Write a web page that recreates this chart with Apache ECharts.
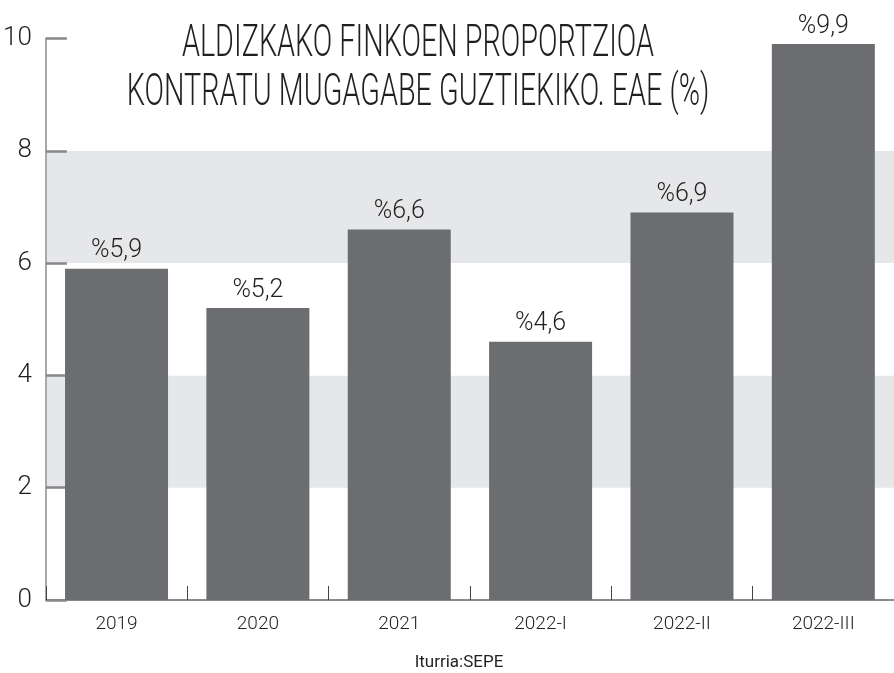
<!DOCTYPE html>
<html>
<head>
<meta charset="utf-8">
<script src="https://cdn.jsdelivr.net/npm/echarts@6/dist/echarts.min.js"></script>
<style>
  html, body { margin: 0; padding: 0; background: #fff; }
  #main { width: 894px; height: 673px; }
</style>
</head>
<body>
<div id="main"></div>
<script>
// datuak
let categories = ['2019', '2020', '2021', '2022-I', '2022-II', '2022-III'];
let values = [5.9, 5.2, 6.6, 4.6, 6.9, 9.9];
let yTicks = [0, 2, 4, 6, 8, 10];
let titleLines = ['ALDIZKAKO FINKOEN PROPORTZIOA', 'KONTRATU MUGAGABE GUZTIEKIKO. EAE (%)'];
let sourceText = 'Iturria:SEPE';

let fontName = "Roboto, 'DejaVu Sans Condensed', sans-serif";
let textColor = '#231f20';

let option = {
    backgroundColor: '#ffffff',
    animation: false,
    grid: {
        left: 45,
        right: -3,
        top: 38.5,
        bottom: 73
    },
    graphic: [
        {
            type: 'text',
            x: 418,
            y: 20,
            scaleX: 0.64,
            z: 10,
            style: {
                text: titleLines.join('\n'),
                font: '300 45px ' + fontName,
                fill: textColor,
                textAlign: 'center',
                textVerticalAlign: 'top',
                lineHeight: 49
            }
        },
        {
            type: 'text',
            x: 459,
            y: 654,
            style: {
                text: sourceText,
                font: '17px ' + fontName,
                fill: textColor,
                textAlign: 'center',
                textVerticalAlign: 'top'
            }
        }
    ],
    xAxis: {
        type: 'category',
        data: categories,
        axisLine: { lineStyle: { color: '#8a8a8c', width: 2 } },
        axisTick: { show: true, inside: true, length: 14, lineStyle: { color: '#444', width: 1 } },
        axisLabel: {
            margin: 15,
            color: textColor,
            fontFamily: fontName,
            fontWeight: 300,
            fontSize: 19
        }
    },
    yAxis: {
        type: 'value',
        min: yTicks[0],
        max: yTicks[yTicks.length - 1],
        interval: 2,
        axisLine: { show: true, lineStyle: { color: '#a9a9ab', width: 2 } },
        axisTick: { show: true, inside: true, length: 21, lineStyle: { color: '#88888a', width: 2.5 } },
        axisLabel: {
            margin: 14,
            color: textColor,
            fontFamily: fontName,
            fontWeight: 300,
            fontSize: 26
        },
        splitLine: { show: false },
        splitArea: {
            show: true,
            areaStyle: { color: ['#ffffff', '#e6e7e9'] }
        }
    },
    series: [
        {
            type: 'bar',
            data: values,
            barWidth: 103,
            itemStyle: { color: '#6c6d71' },
            label: {
                show: true,
                position: 'top',
                distance: 5,
                color: textColor,
                fontFamily: fontName,
                fontWeight: 300,
                fontSize: 25,
                formatter: function (p) {
                    return '%' + String(p.value).replace('.', ',');
                }
            }
        }
    ]
};

let myChart = echarts.init(document.getElementById('main'));
myChart.setOption(option);
window.addEventListener('resize', function () {
    myChart.resize();
});
</script>
</body>
</html>
